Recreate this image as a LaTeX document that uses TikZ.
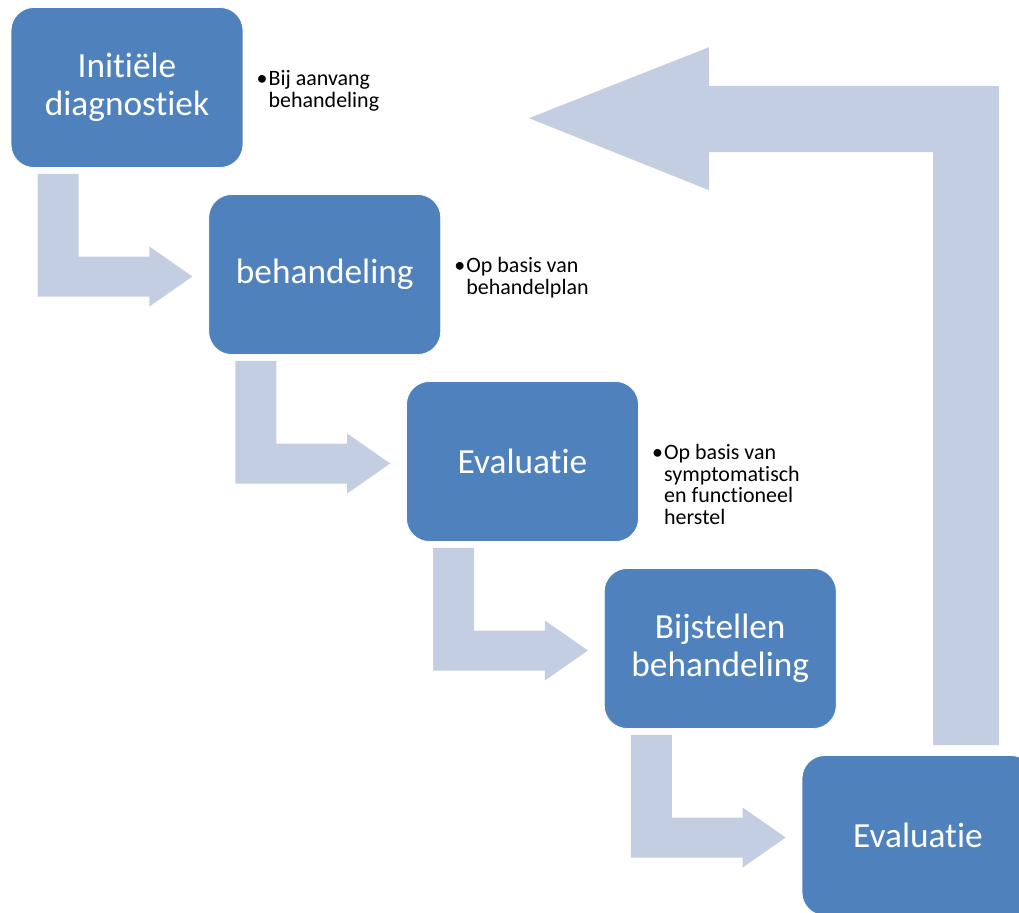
\documentclass[tikz,border=0pt]{standalone}
\usepackage{fontspec}
\setmainfont{Carlito}[RawFeature={-liga;-clig;-calt;-dlig;-rlig}]
\usepackage{xcolor}
\usetikzlibrary{calc,positioning}
\definecolor{stageblue}{RGB}{79,129,189}
\definecolor{flowgrey}{RGB}{196,206,226}
\tikzset{%
	stage/.style = {draw=white, line width=0.4pt, fill=stageblue, rectangle, rounded corners=0.46cm, minimum width=4.64cm, minimum height=3.2cm, text=white, align=center, font=\fontsize{20.1}{21.4}\selectfont}, % Stage box
	note/.style  = {anchor=north west, inner sep=0pt, align=left, font=\fontsize{12.5}{12.2}\selectfont}, % Side note
	flow/.style  = {fill=flowgrey, draw=none}, % Bent arrow
}
\setlength{\lineskiplimit}{-6pt}
\newcommand{\bul}{\makebox[0.24cm][l]{\textbullet}}
\newcommand{\nobul}{\makebox[0.24cm]{}}

\begin{document}
\begin{tikzpicture}[x=0.02cm,y=-0.02cm]
	\useasboundingbox (0,0) rectangle (1019,913);
	\clip (0,0) rectangle (1019,913);
	% stages
	\node [stage] (b1) at (127,87.5) {Initiële\\diagnostiek};
	\node [stage] (b2) at (324.75,274.5) {behandeling};
	\node [stage] (b3) at (522.5,461.5) {Evaluatie};
	\node [stage] (b4) at (720.25,648.5) {Bijstellen\\behandeling};
	\node [stage] (b5) at (918,835.5) {Evaluatie};
	
	% notes
	\node [note] (n1) at ($(b1.north east)+(13,63)$) {\bul Bij aanvang\\\nobul behandeling};
	\node [note] (n2) at ($(b2.north east)+(13,63)$) {\bul Op basis van\\\nobul behandelplan};
	\node [note] (n3) at ($(b3.north east)+(13,63)$) {\bul Op basis van\\\nobul symptomatisch\\\nobul en functioneel\\\nobul herstel};
	
	% bent arrows
	\foreach \src/\dst in {b1/b2,b2/b3,b3/b4,b4/b5}
		\fill [flow] ($(\src.south west)+(27,6)$) coordinate (a) -- ++(41,0) |- ($(\dst.west)+(-59,-18)$) -- ++(0,-10) -- ($(\dst.west)+(-16,2)$) -- ++(-43,30) -- ++(0,-10) -| (a) -- cycle;
	
	% return arrow
	\fill [flow] ($(b5.north)+(15,-10)$) -- ++(66,0) -- ++(0,-659) -- ++(-290,0) -- ++(0,-39) -- ++(-180,71) -- ++(180,72) -- ++(0,-38) -- ++(224,0) -- cycle;
\end{tikzpicture}
\end{document}
